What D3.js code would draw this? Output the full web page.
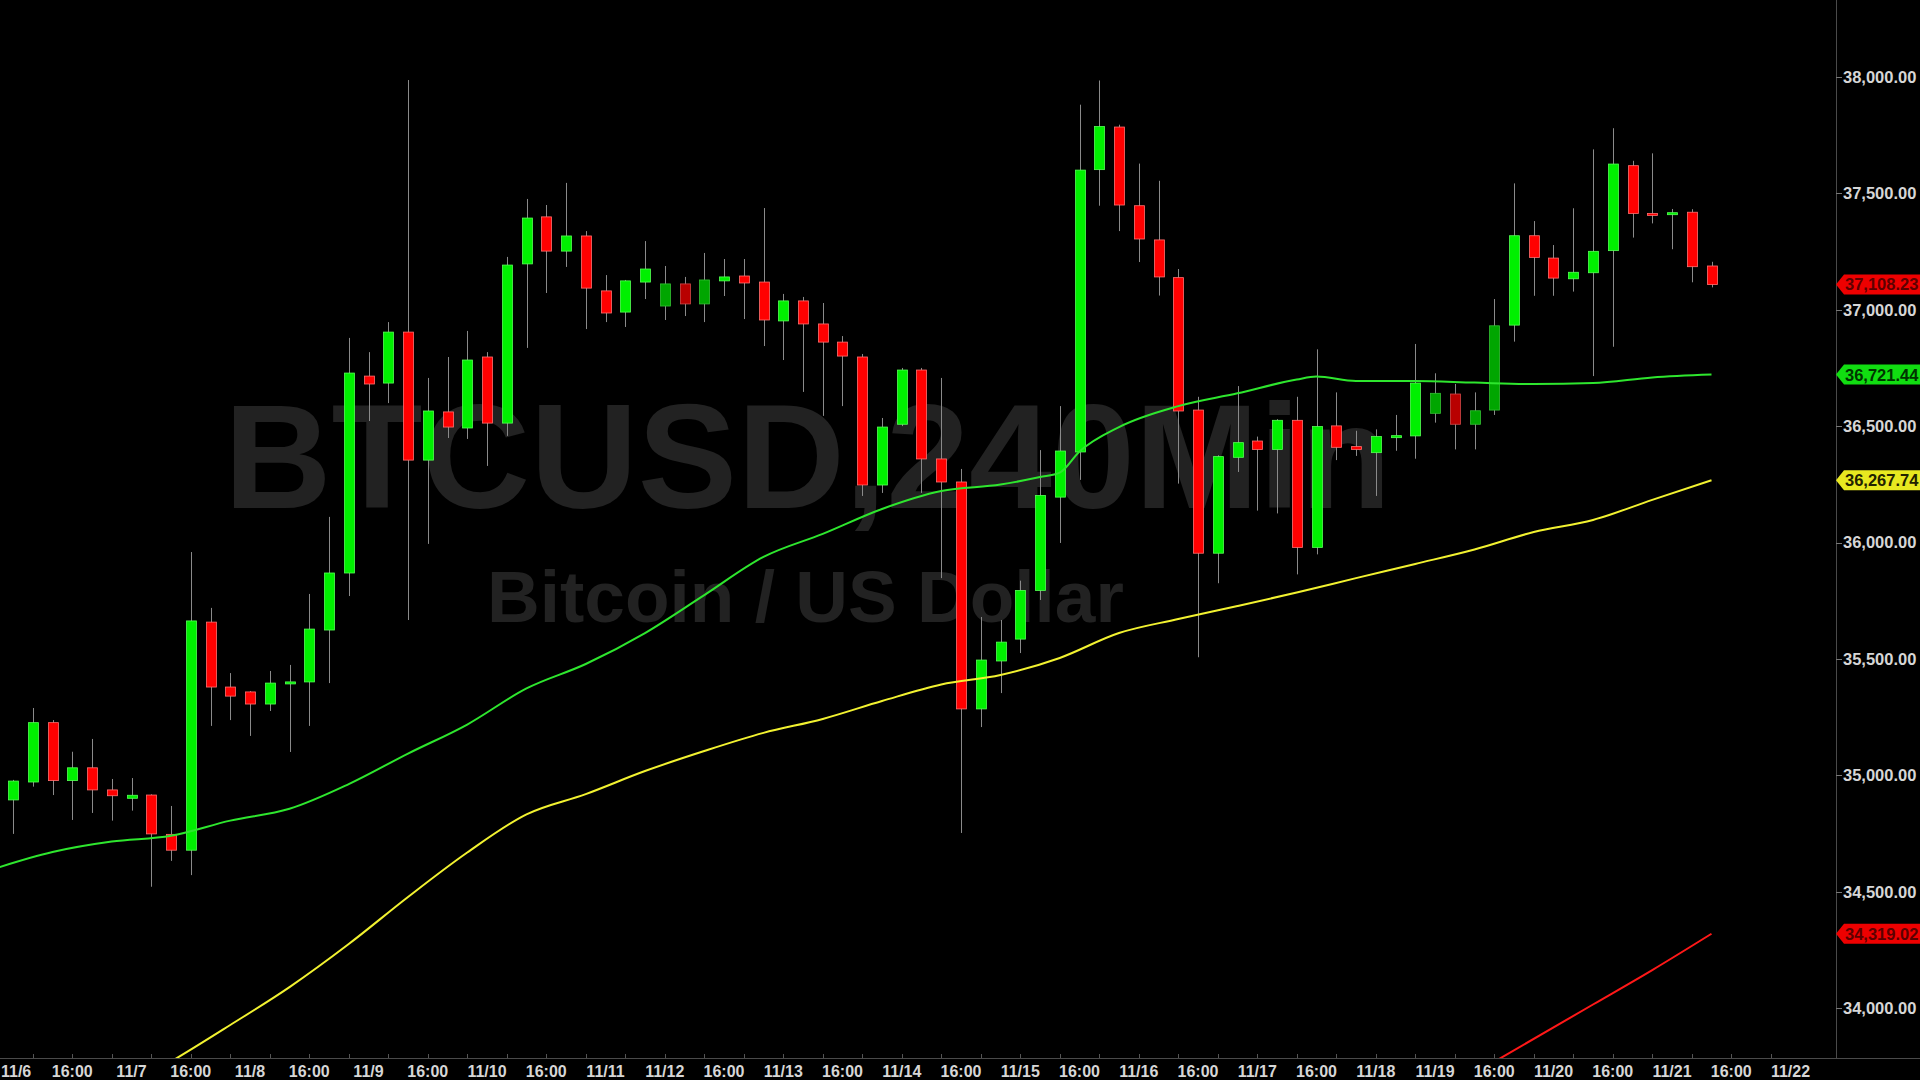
<!DOCTYPE html>
<html>
<head>
<meta charset="utf-8">
<script src="https://cdn.jsdelivr.net/npm/d3@7"></script>
<style>
html,body{margin:0;padding:0;background:#000;overflow:hidden}
svg{display:block}
</style>
</head>
<body>
<svg id="chart" width="1920" height="1080"></svg>
<script>
// ---- DATA: BTCUSD 240-minute bars ----
const opens = [34894,34971,35226,34977,35032,34937,34901,34915,34746,34678,
35658,35379,35358,35306,35396,35401,35624,35869,36715,36685,
36904,36354,36561,36492,36797,36513,37197,37399,37252,37317,
37081,36990,37119,37016,37111,37025,37124,37145,37119,36952,
37038,36939,36861,36797,36247,36508,36741,36359,36260,35285,
35491,35585,35794,36195,36389,37602,37785,37447,37300,37138,
36569,35954,36366,36436,36400,36525,35979,36501,36412,36386,
36452,36458,36555,36638,36508,36569,36934,37318,37222,37133,
37159,37254,37619,37414,37410,37419,37188];
const highs = [34980,35289,35237,35101,35156,34984,34988,34918,34868,35959,
35719,35439,35362,35448,35474,35779,36110,36879,36818,36947,
37987,36707,36797,36909,36818,37227,37476,37450,37545,37338,
37149,37128,37295,37188,37141,37244,37218,37218,37437,37068,
37055,37029,36887,36810,36535,36750,36750,36707,36316,35680,
35667,35836,36397,36586,37881,37985,37795,37628,37554,37175,
36626,36375,36672,36455,36530,36626,36830,36645,36480,36486,
36548,36853,36727,36681,36645,37046,37543,37381,37278,37436,
37689,37780,37640,37672,37433,37432,37206];
const lows = [34748,34951,34915,34808,34838,34805,34848,34521,34632,34571,
35212,35237,35169,35276,35100,35212,35396,35770,36522,36599,
35667,35994,36449,36445,36329,36458,36836,37072,37184,36917,
36947,36926,37046,36956,36973,36947,37059,36960,36844,36784,
36647,36544,36586,36200,36213,36500,36213,35847,34752,35207,
35353,35525,35753,35998,36269,37447,37338,37205,37061,36253,
35507,35825,36303,36137,36125,35863,35949,36354,36372,36200,
36394,36360,36515,36400,36400,36548,36863,37060,37060,37078,
36715,36841,37310,37371,37260,37118,37096];
const closes = [34975,35226,34977,35032,34937,34912,34914,34748,34678,35663,
35379,35340,35306,35396,35401,35628,35869,36728,36681,36904,
36354,36565,36496,36784,36513,37192,37394,37252,37317,37093,
36986,37124,37175,37111,37025,37128,37141,37115,36956,37038,
36939,36861,36801,36247,36496,36741,36359,36260,35285,35495,
35572,35794,36202,36393,37600,37787,37450,37304,37141,36565,
35954,36369,36429,36400,36525,35979,36498,36409,36400,36455,
36459,36685,36641,36508,36566,36931,37318,37225,37136,37161,
37251,37626,37414,37407,37417,37185,37108.23];
// bars drawn in the platform's faded shade
const fadedBars = [33,34,35,72,73,74,75];

// moving averages, read at bar indexes
const maFastIdx = [-1,2,5,8,11,14,17,20,23,26,29,32,35,38,41,44,47,50,52,53,54,56,59,62,65,66,68,71,74,77,80,83,86];
const maFastVal = [34597,34670,34715,34740,34805,34856,34962,35093,35218,35373,35478,35611,35774,35938,36037,36144,36221,36249,36281,36300,36391,36496,36586,36641,36700,36713,36694,36694,36687,36681,36685,36709,36721.44];
const maMidIdx = [7,8,11,14,17,20,23,26,29,32,35,38,41,44,47,50,53,56,59,62,65,68,71,74,77,80,83,86];
const maMidVal = [33721,33770,33927,34090,34275,34477,34668,34832,34919,35018,35104,35182,35242,35319,35390,35431,35504,35611,35671,35727,35785,35847,35908,35970,36045,36097,36183,36267.74];
const maSlowIdx = [75,80,83,86];
const maSlowVal = [33769,34015,34163,34319.02];

const yTicks = [34000,34500,35000,35500,36000,36500,37000,37500,38000];
const xTickLabels = ["11/6","16:00","11/7","16:00","11/8","16:00","11/9","16:00","11/10","16:00",
"11/11","11/12","16:00","11/13","16:00","11/14","16:00","11/15","16:00","11/16",
"16:00","11/17","16:00","11/18","11/19","16:00","11/20","16:00","11/21","16:00","11/22"];
const barsPerLabel = 3;
const symbolText = "BTCUSD,240Min";
const descText = "Bitcoin / US Dollar";

// ---- LAYOUT ----
const W = 1920, H = 1080;
const plotRight = 1836, plotBottom = 1058;
const svg = d3.select("#chart");
svg.append("rect").attr("width", W).attr("height", H).attr("fill", "#000");

const x = d3.scaleLinear().domain([0, 86]).range([13, 1711.5]);
const y = d3.scaleLinear().domain([34000, 38000]).range([1008, 77]);

svg.append("defs").append("clipPath").attr("id", "plotClip")
  .append("rect").attr("x", 0).attr("y", 0).attr("width", plotRight).attr("height", plotBottom);

const plot = svg.append("g").attr("clip-path", "url(#plotClip)");

// watermark
plot.append("text").attr("x", 224).attr("y", 508)
  .attr("font-family", "'Liberation Sans', Arial, sans-serif").attr("font-weight", "bold")
  .attr("font-size", 149).attr("fill", "#222222").text(symbolText);
plot.append("text").attr("x", 487).attr("y", 622)
  .attr("font-family", "'Liberation Sans', Arial, sans-serif").attr("font-weight", "bold")
  .attr("font-size", 73).attr("fill", "#222222").text(descText);

// candles
const bars = d3.range(opens.length).map(i => ({i, o: opens[i], h: highs[i], l: lows[i], c: closes[i], faded: fadedBars.includes(i)}));
const g = plot.append("g");
g.selectAll("line.wick").data(bars).join("line").attr("class", "wick")
  .attr("x1", d => Math.round(x(d.i)) + 0.5).attr("x2", d => Math.round(x(d.i)) + 0.5)
  .attr("y1", d => y(d.h)).attr("y2", d => y(d.l))
  .attr("stroke", "#8a8a8a").attr("stroke-width", 1);
const bodyW = 10;
g.selectAll("rect.body").data(bars).join("rect").attr("class", "body")
  .attr("x", d => Math.round(x(d.i)) - bodyW / 2 + 0.5)
  .attr("width", bodyW)
  .attr("y", d => Math.min(y(d.o), y(d.c)))
  .attr("height", d => Math.max(2, Math.abs(y(d.o) - y(d.c))))
  .attr("fill", d => d.c >= d.o ? (d.faded ? "#00a600" : "#00f000") : (d.faded ? "#b80000" : "#ff0000"))
  .attr("stroke", d => d.c >= d.o ? (d.faded ? "#33c033" : "#55ff55") : (d.faded ? "#d04848" : "#ff7070"))
  .attr("stroke-width", 0.8);

// moving averages
function maLine(idx, vals, color, width) {
  const pts = idx.map((k, j) => [k, vals[j]]);
  plot.append("path").datum(pts)
    .attr("d", d3.line().x(d => x(d[0])).y(d => y(d[1])).curve(d3.curveMonotoneX))
    .attr("fill", "none").attr("stroke", color).attr("stroke-width", width);
}
maLine(maMidIdx, maMidVal, "#f2f230", 2);
maLine(maFastIdx, maFastVal, "#2ee62e", 2);
maLine(maSlowIdx, maSlowVal, "#ff1818", 2);

// axes lines
svg.append("line").attr("x1", plotRight + 0.5).attr("x2", plotRight + 0.5).attr("y1", 0).attr("y2", plotBottom)
  .attr("stroke", "#4a4a4a").attr("stroke-width", 1);
svg.append("line").attr("x1", 0).attr("x2", W).attr("y1", plotBottom + 0.5).attr("y2", plotBottom + 0.5)
  .attr("stroke", "#4a4a4a").attr("stroke-width", 1);

// right price axis
const fmt = d3.format(",.2f");
const yAxis = svg.append("g");
yAxis.selectAll("line").data(yTicks).join("line")
  .attr("x1", plotRight).attr("x2", plotRight + 6)
  .attr("y1", d => Math.round(y(d)) + 0.5).attr("y2", d => Math.round(y(d)) + 0.5)
  .attr("stroke", "#777");
yAxis.selectAll("text").data(yTicks).join("text")
  .attr("x", 1843).attr("y", d => y(d)).attr("dy", "0.36em")
  .attr("font-family", "'Liberation Sans', Arial, sans-serif").attr("font-weight", "bold")
  .attr("font-size", 16.5).attr("fill", "#d6d6d6").text(d => fmt(d));

// value badges
const badges = [
  {v: closes[closes.length - 1], bg: "#ee0000", fg: "#5c0000"},
  {v: maFastVal[maFastVal.length - 1], bg: "#11dd11", fg: "#003300"},
  {v: maMidVal[maMidVal.length - 1], bg: "#e8e820", fg: "#222200"},
  {v: maSlowVal[maSlowVal.length - 1], bg: "#ee0000", fg: "#5c0000"}
];
const bg = svg.append("g");
badges.forEach(b => {
  const yc = y(b.v);
  bg.append("path")
    .attr("d", `M${plotRight},${yc} L${plotRight + 8},${yc - 10} L${W},${yc - 10} L${W},${yc + 10} L${plotRight + 8},${yc + 10} Z`)
    .attr("fill", b.bg);
  bg.append("text").attr("x", 1845).attr("y", yc).attr("dy", "0.36em")
    .attr("font-family", "'Liberation Sans', Arial, sans-serif").attr("font-weight", "bold")
    .attr("font-size", 16.5).attr("fill", b.fg).text(fmt(b.v));
});

// bottom time axis
const xAxis = svg.append("g");
const tickIdx = d3.range(1, 90, 2);
xAxis.selectAll("line").data(tickIdx).join("line")
  .attr("x1", d => Math.round(x(d)) + 0.5).attr("x2", d => Math.round(x(d)) + 0.5)
  .attr("y1", plotBottom - 4).attr("y2", plotBottom)
  .attr("stroke", "#555");
xAxis.selectAll("text").data(xTickLabels).join("text")
  .attr("x", (d, k) => x(k * barsPerLabel)).attr("y", 1077)
  .attr("text-anchor", "middle")
  .attr("font-family", "'Liberation Sans', Arial, sans-serif").attr("font-weight", "bold")
  .attr("font-size", 16).attr("fill", "#d6d6d6").text(d => d)
  .each(function () {
    const b = this.getBBox();
    if (b.x < 1) d3.select(this).attr("text-anchor", "start").attr("x", 1);
  });
</script>
</body>
</html>
